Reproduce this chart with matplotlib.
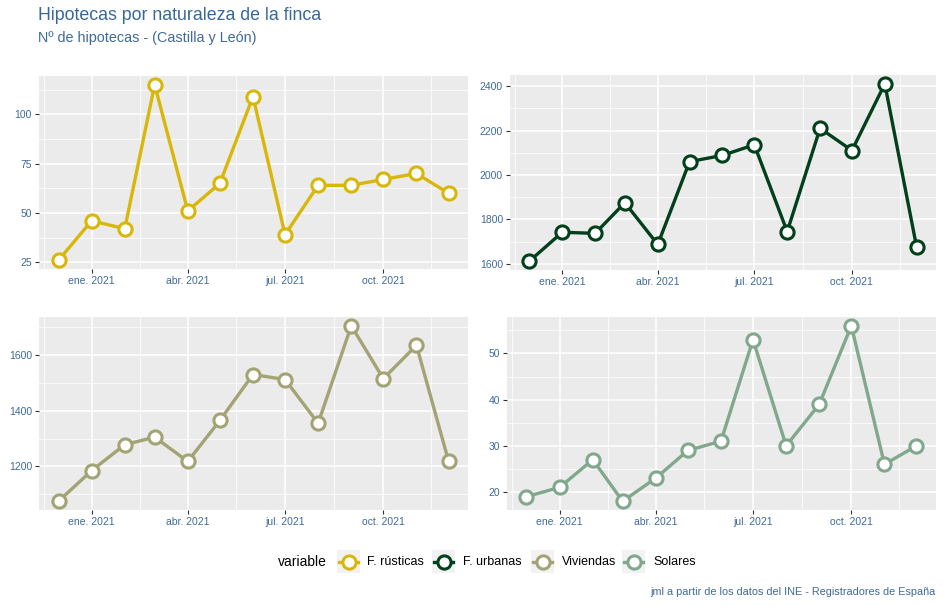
import datetime as dt
import matplotlib
matplotlib.use("Agg")
import matplotlib.pyplot as plt
import matplotlib.dates as mdates
from matplotlib.patches import Rectangle
from matplotlib.lines import Line2D

plt.rcParams['font.family'] = ['Liberation Sans', 'DejaVu Sans']

# datos: hipotecas mensuales dic. 2020 - dic. 2021
meses = ['2020-12', '2021-01', '2021-02', '2021-03', '2021-04', '2021-05', '2021-06',
         '2021-07', '2021-08', '2021-09', '2021-10', '2021-11', '2021-12']
rusticas = [26, 46, 42, 115, 51, 65, 109, 39, 64, 64, 67, 70, 60]
urbanas = [1612, 1742, 1737, 1875, 1687, 2060, 2088, 2136, 1745, 2210, 2110, 2410, 1675]
viviendas = [1075, 1185, 1278, 1305, 1218, 1365, 1530, 1512, 1355, 1705, 1515, 1635, 1220]
solares = [19, 21, 27, 18, 23, 29, 31, 53, 30, 39, 56, 26, 30]

nombres = ['F. rústicas', 'F. urbanas', 'Viviendas', 'Solares']
series = [rusticas, urbanas, viviendas, solares]
colores = ['#D8B70A', '#02401B', '#A2A475', '#81A88D']
yticks = [[25, 50, 75, 100], [1600, 1800, 2000, 2200, 2400],
          [1200, 1400, 1600], [20, 30, 40, 50]]

COL_TXT = '#3F6A9A'
W, H = 944, 607

fechas = [dt.datetime.strptime(m, '%Y-%m') for m in meses]
x = mdates.date2num(fechas)
xmaj = [dt.datetime(2021, 1, 1), dt.datetime(2021, 4, 1), dt.datetime(2021, 7, 1), dt.datetime(2021, 10, 1)]
xmaj_n = mdates.date2num(xmaj)
xlab = ['ene. 2021', 'abr. 2021', 'jul. 2021', 'oct. 2021']
paso = xmaj_n[1] - xmaj_n[0]
xmin_n = [xmaj_n[0] - paso / 2] + [(a + b) / 2 for a, b in zip(xmaj_n[:-1], xmaj_n[1:])] + [xmaj_n[-1] + paso / 2]

# cajas de los paneles en pixeles (izq, arriba, der, abajo)
cajas = [(39, 76, 468, 269), (510, 75, 936, 270), (39, 317, 468, 510), (507, 317, 936, 510)]

fig = plt.figure(figsize=(W / 100, H / 100), dpi=100)

for serie, color, yt, (l, t, r, b) in zip(series, colores, yticks, cajas):
    ax = fig.add_axes([l / W, 1 - b / H, (r - l) / W, (b - t) / H])
    ax.set_facecolor('#EBEBEB')
    for s in ax.spines.values():
        s.set_visible(False)
    ymin_t = [yt[0] - (yt[1] - yt[0]) / 2] + [(a + c) / 2 for a, c in zip(yt[:-1], yt[1:])] + [yt[-1] + (yt[1] - yt[0]) / 2]
    ax.set_xticks(xmaj_n)
    ax.set_xticklabels(xlab)
    ax.set_xticks(xmin_n, minor=True)
    ax.set_yticks(yt)
    ax.set_yticks(ymin_t, minor=True)
    # limites despues de los ticks (ggplot: expansion 5%)
    rng = x[-1] - x[0]
    ax.set_xlim(x[0] - 0.05 * rng, x[-1] + 0.05 * rng)
    lo, hi = min(serie), max(serie)
    ax.set_ylim(lo - 0.05 * (hi - lo), hi + 0.05 * (hi - lo))
    ax.grid(which='major', color='white', lw=1.1)
    ax.grid(which='minor', color='white', lw=0.55)
    ax.set_axisbelow(True)
    ax.tick_params(which='major', length=3, width=0.8, color='#333333',
                   labelsize=7.5, labelcolor=COL_TXT, pad=2)
    ax.tick_params(which='minor', length=0)
    ax.plot(x, serie, color=color, lw=2.4, marker='o', ms=9.5,
            mfc='white', mec=color, mew=2.2, zorder=3)

fig.text(38 / W, 1 - 15 / H, 'Hipotecas por naturaleza de la finca', fontsize=12.8,
         color='#36689B', va='center', ha='left')
fig.text(38 / W, 1 - 38 / H, 'Nº de hipotecas - (Castilla y León)', fontsize=10.4,
         color=COL_TXT, va='center', ha='left')

# leyenda dibujada a mano
ly = 1 - 562 / H
fig.text(278 / W, ly, 'variable', fontsize=10, color='black', va='center', ha='left')
keys_x = [337, 432, 531, 622]
text_x = [367, 463, 562, 653]
kw = 23
for nombre, color, kx, tx in zip(nombres, colores, keys_x, text_x):
    fig.add_artist(Rectangle((kx / W, 1 - 573 / H), kw / W, kw / H,
                             transform=fig.transFigure, facecolor='#F2F2F2',
                             edgecolor='none', zorder=1))
    fig.add_artist(Line2D([(kx + 2) / W, (kx + kw - 2) / W], [ly, ly], transform=fig.transFigure,
                          color=color, lw=2.4, zorder=2))
    fig.add_artist(Line2D([(kx + kw / 2) / W], [ly], transform=fig.transFigure, marker='o',
                          ms=9.5, mfc='white', mec=color, mew=2.2, lw=0, zorder=3))
    fig.text(tx / W, ly, nombre, fontsize=9, color='black', va='center', ha='left')

fig.text(936 / W, 1 - 592 / H, 'jml a partir de los datos del INE - Registradores de España',
         fontsize=7.8, color=COL_TXT, ha='right', va='center')

fig.savefig('out.png', dpi=100)
